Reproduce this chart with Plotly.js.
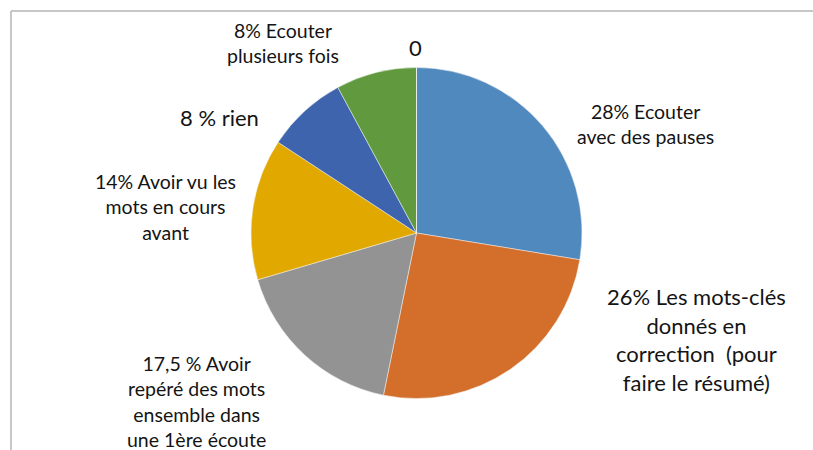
<!DOCTYPE html>
<html>
<head>
<meta charset="utf-8">
<script src="https://cdn.plot.ly/plotly-3.0.1.min.js"></script>
<style>
  html, body { margin: 0; padding: 0; background: #fff; }
  #the_plot { width: 813px; height: 450px; }
</style>
</head>
<body>
<div id="the_plot"></div>
<script>
// slices, clockwise from 12 o'clock
var categories = [
  "Ecouter avec des pauses",
  "Les mots-clés donnés en correction (pour faire le résumé)",
  "Avoir repéré des mots ensemble dans une 1ère écoute",
  "Avoir vu les mots en cours avant",
  "rien",
  "Ecouter plusieurs fois",
  "autre"
];
var values = [28, 26, 17.5, 14, 8, 8, 0];
var labelTexts = [
  "28% Ecouter<br>avec des pauses",
  "26% Les mots-clés<br>donnés en<br>correction  (pour<br>faire le résumé)",
  "17,5 % Avoir<br>repéré des mots<br>ensemble dans<br>une 1ère écoute",
  "14% Avoir vu les<br>mots en cours<br>avant",
  "8 % rien",
  "8% Ecouter<br>plusieurs fois",
  "0"
];

var colors = ["#4f89bd", "#d46e2b", "#939393", "#e1a900", "#3d64ac", "#619a3e", "#c9c9c9"];

// label centres in pixels (x, y from top) and font size
var labelPos = [
  [645, 124.5, 19.5],
  [696, 339, 22],
  [196, 401.5, 19.5],
  [165, 207, 19.5],
  [219, 117, 22],
  [282.5, 42.5, 19.5],
  [415, 47, 22]
];

var W = 813, H = 450;

function setup_plot() {
  var data = [{
    type: "pie",
    labels: categories,
    values: values,
    sort: false,
    direction: "clockwise",
    rotation: 0,
    textinfo: "none",
    hoverinfo: "label+value",
    marker: { colors: colors, line: { color: "#f4f4f4", width: 0.5 } },
    domain: { x: [251 / W, 582 / W], y: [(H - 398.5) / H, (H - 67.5) / H] }
  }];

  var annotations = [];
  for (var i = 0; i < labelTexts.length; i++) {
    annotations.push({
      text: labelTexts[i],
      xref: "paper", yref: "paper",
      x: labelPos[i][0] / W, y: 1 - labelPos[i][1] / H,
      xanchor: "center", yanchor: "middle",
      showarrow: false, align: "center",
      font: { family: "Lato, sans-serif", size: labelPos[i][2], color: "#141414" }
    });
  }

  var layout = {
    width: W, height: H,
    margin: { l: 0, r: 0, t: 0, b: 0 },
    paper_bgcolor: "#ffffff",
    showlegend: false,
    annotations: annotations,
    shapes: [
      { type: "line", xref: "paper", yref: "paper", x0: 11 / W, x1: 1, y0: 1 - 11 / H, y1: 1 - 11 / H,
        line: { color: "#b4b4b4", width: 1.5 } },
      { type: "line", xref: "paper", yref: "paper", x0: 11 / W, x1: 11 / W, y0: 0, y1: 1 - 11 / H,
        line: { color: "#b4b4b4", width: 1.5 } }
    ]
  };

  Plotly.newPlot("the_plot", data, layout, { displayModeBar: false });
}

window.addEventListener("load", setup_plot);
</script>
</body>
</html>
